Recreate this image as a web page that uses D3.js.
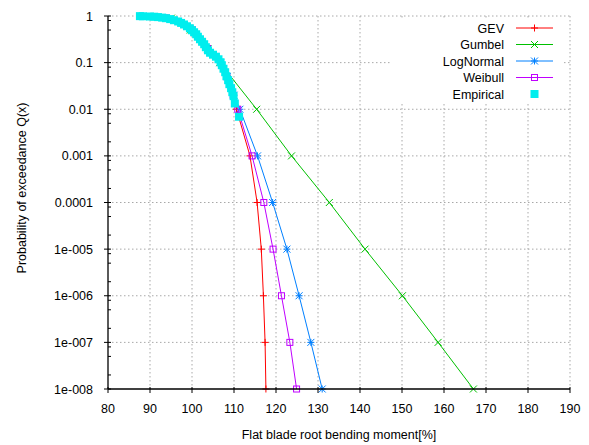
<!DOCTYPE html>
<html>
<head>
<meta charset="utf-8">
<style>
body { margin: 0; background: #fff; }
svg { font-family: "Liberation Sans", Arial, sans-serif; }
</style>
</head>
<body>
<div id="ch1"></div>
<script src="https://d3js.org/d3.v7.min.js"></script>
<script>

// ---- data ----
var xTicks = [80, 90, 100, 110, 120, 130, 140, 150, 160, 170, 180, 190];
var yTicks = [1, 0.1, 0.01, 0.001, 0.0001, 1e-5, 1e-6, 1e-7, 1e-8];
var yTickLabels = ["1", "0.1", "0.01", "0.001", "0.0001", "1e-005", "1e-006", "1e-007", "1e-008"];

var fitQ = [0.9, 0.5, 0.2, 0.1, 0.05, 0.02, 0.01, 1e-3, 1e-4, 1e-5, 1e-6, 1e-7, 1e-8];
var gevX = [93.8, 100.0, 103.7, 106.8, 108.3, 109.7, 110.6, 113.8, 115.5, 116.5, 117.0, 117.4, 117.6];
var weibullX = [93.8, 100.0, 103.7, 106.8, 108.3, 109.8, 110.9, 114.3, 117.1, 119.3, 121.3, 123.3, 124.9];
var lognormalX = [93.8, 100.0, 103.7, 106.8, 108.4, 110.0, 111.4, 115.6, 119.2, 122.6, 125.5, 128.3, 131.0];

var gumbelQ = [0.9, 0.5, 0.2, 0.1, 0.01, 1e-3, 1e-4, 1e-5, 1e-6, 1e-7, 1e-8];
var gumbelX = [95.1, 99.6, 103.8, 106.6, 115.4, 123.7, 132.7, 141.2, 150.1, 158.6, 167.0];

var empX = [87.6, 88.3, 90.0, 91.0, 91.9, 92.9, 93.8, 94.8, 95.7, 96.7, 97.4, 98.1, 98.8, 99.5, 100.0,
            100.5, 101.0, 101.4, 101.9, 102.4, 102.9, 103.3, 103.8, 104.3, 105.0, 105.7, 106.3, 106.8,
            107.1, 107.5, 107.9, 108.2, 108.6, 108.9, 109.3, 109.6, 109.9, 110.2, 111.2];
var empQ = [0.993, 0.986, 0.975, 0.966, 0.947, 0.924, 0.897, 0.858, 0.813, 0.763, 0.711, 0.658, 0.602, 0.545, 0.494,
            0.448, 0.406, 0.359, 0.317, 0.280, 0.248, 0.214, 0.184, 0.163, 0.148, 0.134, 0.118, 0.102,
            0.0880, 0.0740, 0.0623, 0.0511, 0.0420, 0.0345, 0.0283, 0.0232, 0.0191, 0.0133, 0.0069];

var series = [
  {name: "GEV",       color: "#ff0000", sym: "plus",   xs: gevX,       qs: fitQ},
  {name: "Gumbel",    color: "#00c000", sym: "cross",  xs: gumbelX,    qs: gumbelQ},
  {name: "LogNormal", color: "#0080ff", sym: "star",   xs: lognormalX, qs: fitQ},
  {name: "Weibull",   color: "#c000ff", sym: "square", xs: weibullX,   qs: fitQ}
];

var W = 589, H = 445;
var margin = {top: 16, right: 19, bottom: 56, left: 108};
var width = W - margin.left - margin.right,
    height = H - margin.top - margin.bottom;

var svg = d3.select("#ch1").append("svg")
    .attr("width", W).attr("height", H);
var g = svg.append("g")
    .attr("transform", "translate(" + margin.left + "," + margin.top + ")");

var x = d3.scaleLinear().domain([80, 190]).range([0, width]);
var y = d3.scaleLog().domain([1e-8, 1]).range([height, 0]);

// grid
var grid = g.append("g").attr("stroke", "#a8a8a8").attr("stroke-dasharray", "1.5,2.5").attr("stroke-width", 1);
grid.selectAll(".gx").data(xTicks.slice(1)).enter().append("line")
    .attr("x1", d => x(d)).attr("x2", d => x(d)).attr("y1", 0).attr("y2", height);
grid.selectAll(".gy").data(yTicks.slice(0, -1)).enter().append("line")
    .attr("x1", 0).attr("x2", width).attr("y1", d => y(d)).attr("y2", d => y(d));

// legend background covers the grid
var legX = 504 - margin.left, legY0 = 28 - margin.top, legDy = 16.5;
g.append("rect").attr("x", legX - 112).attr("y", legY0 - 10).attr("width", 170).attr("height", 86).attr("fill", "#fff");

function marker(sel, sym, color, s) {
  var h = s / 2;
  if (sym === "plus" || sym === "star") {
    sel.append("path").attr("d", `M${-h},0H${h}M0,${-h}V${h}`).attr("stroke", color).attr("fill", "none");
  }
  if (sym === "cross" || sym === "star") {
    sel.append("path").attr("d", `M${-h},${-h}L${h},${h}M${-h},${h}L${h},${-h}`).attr("stroke", color).attr("fill", "none");
  }
  if (sym === "square") {
    sel.append("rect").attr("x", -3).attr("y", -3).attr("width", 6).attr("height", 6)
      .attr("stroke", color).attr("fill", "none");
  }
}

var line = d3.line().x(d => x(d[0])).y(d => y(d[1]));

series.forEach(function(s) {
  var pts = s.xs.map((v, i) => [v, s.qs[i]]);
  g.append("path").datum(pts)
    .attr("d", line).attr("fill", "none").attr("stroke", s.color).attr("stroke-width", 1);
  g.append("g").selectAll("g").data(pts).enter().append("g")
    .attr("transform", d => "translate(" + x(d[0]) + "," + y(d[1]) + ")")
    .each(function() { marker(d3.select(this), s.sym, s.color, 7); });
});

// empirical on top
var emp = empX.map((v, i) => [v, empQ[i]]);
g.append("g").selectAll("rect").data(emp).enter().append("rect")
  .attr("x", d => x(d[0]) - 4).attr("y", d => y(d[1]) - 4)
  .attr("width", 8).attr("height", 8).attr("fill", "#00eeee");

// axes
var ax = g.append("g").attr("stroke", "#000");
ax.append("line").attr("x1", 0).attr("x2", width).attr("y1", height).attr("y2", height).attr("stroke-width", 1.3);
ax.append("line").attr("x1", 0).attr("x2", 0).attr("y1", 0).attr("y2", height).attr("stroke-width", 1.3);
ax.selectAll(".tx").data(xTicks).enter().append("line")
  .attr("x1", d => x(d)).attr("x2", d => x(d)).attr("y1", height - 2).attr("y2", height + 4);
ax.selectAll(".ty").data(yTicks).enter().append("line")
  .attr("x1", -4).attr("x2", 3).attr("y1", d => y(d)).attr("y2", d => y(d));
var minor = [];
yTicks.slice(1).forEach(function(t) { [2, 5, 8].forEach(m => minor.push(t * m)); });
ax.selectAll(".tm").data(minor).enter().append("line")
  .attr("x1", 0).attr("x2", 3).attr("y1", d => y(d)).attr("y2", d => y(d));

// tick labels
g.append("g").selectAll("text").data(xTicks).enter().append("text")
  .attr("x", d => x(d)).attr("y", height + 24).attr("text-anchor", "middle")
  .attr("font-size", "12.5px").attr("fill", "#000").text(d => d);
g.append("g").selectAll("text").data(yTicks).enter().append("text")
  .attr("x", -15).attr("y", d => y(d) + 4.5).attr("text-anchor", "end")
  .attr("font-size", "12.5px").attr("fill", "#000").text((d, i) => yTickLabels[i]);

// titles
svg.append("text").attr("x", 339).attr("y", 439).attr("text-anchor", "middle")
  .attr("font-size", "12.5px").text("Flat blade root bending moment[%]");
svg.append("text").attr("transform", "translate(26,188) rotate(-90)").attr("text-anchor", "middle")
  .attr("font-size", "12.5px").text("Probability of exceedance Q(x)");

// legend
var leg = g.append("g");
series.concat([{name: "Empirical", color: "#00eeee", sym: "fill"}]).forEach(function(s, i) {
  var yy = legY0 + i * legDy;
  leg.append("text").attr("x", legX).attr("y", yy + 4.5).attr("text-anchor", "end")
    .attr("font-size", "12.5px").text(s.name);
  var cx = 534.5 - margin.left;
  if (s.sym === "fill") {
    leg.append("rect").attr("x", cx - 4).attr("y", yy - 4).attr("width", 8).attr("height", 8).attr("fill", s.color);
  } else {
    leg.append("line").attr("x1", 516 - margin.left).attr("x2", 553 - margin.left)
      .attr("y1", yy).attr("y2", yy).attr("stroke", s.color);
    marker(leg.append("g").attr("transform", "translate(" + cx + "," + yy + ")"), s.sym, s.color, 7);
  }
});

</script>
</body>
</html>
